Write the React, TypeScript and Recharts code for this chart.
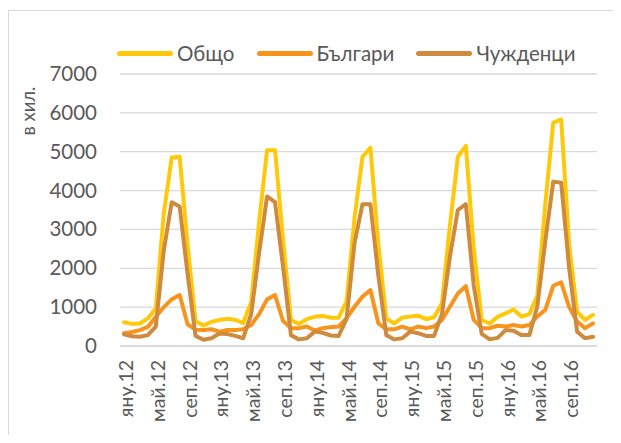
import React from "react";
import { LineChart, Line, XAxis, YAxis, CartesianGrid } from "recharts";

const months = ["яну", "фев", "мар", "апр", "май", "юни", "юли", "авг", "сеп", "окт", "ное", "дек"];
const years = ["12", "13", "14", "15", "16"];
const categories: string[] = years.flatMap((y) => months.map((m) => `${m}.${y}`));

const total = [
  610, 570, 580, 710, 970, 3400, 4850, 4870, 2600, 630, 530, 620,
  670, 700, 670, 590, 1130, 3200, 5040, 5040, 2750, 670, 570, 690,
  750, 770, 730, 730, 1150, 3300, 4870, 5100, 2600, 710, 580, 730,
  760, 780, 690, 740, 1100, 3100, 4870, 5150, 2500, 670, 580, 750,
  840, 940, 760, 820, 1300, 3650, 5750, 5830, 2600, 880, 670, 800,
];
const bulgarians = [
  330, 360, 410, 490, 750, 1000, 1200, 1310, 560, 420, 410, 430,
  370, 410, 410, 430, 540, 820, 1200, 1310, 650, 460, 460, 500,
  400, 460, 480, 500, 720, 1010, 1270, 1440, 580, 430, 430, 500,
  430, 500, 460, 500, 670, 1010, 1350, 1540, 670, 460, 460, 520,
  500, 540, 500, 540, 760, 930, 1550, 1640, 1000, 630, 460, 580,
];
const foreigners = [
  300, 250, 240, 280, 500, 2450, 3700, 3590, 1850, 260, 160, 200,
  320, 310, 260, 200, 820, 2400, 3850, 3700, 2050, 280, 170, 200,
  370, 340, 270, 260, 700, 2650, 3650, 3650, 1800, 280, 170, 200,
  370, 330, 260, 260, 820, 2300, 3500, 3650, 1550, 310, 170, 210,
  410, 390, 280, 280, 1030, 2700, 4230, 4200, 2000, 370, 200, 240,
];
const yTicks = [0, 1000, 2000, 3000, 4000, 5000, 6000, 7000];

const series = [
  { key: "total", name: "Общо", color: "#FFC90A", values: total },
  { key: "bg", name: "Българи", color: "#F7941E", values: bulgarians },
  { key: "fr", name: "Чужденци", color: "#CF8B3D", values: foreigners },
];

const data = categories.map((c, i) => {
  const row: Record<string, string | number> = { cat: c };
  series.forEach((s) => (row[s.key] = s.values[i]));
  return row;
});

const FONT = "Lato, 'Open Sans', sans-serif";
const TEXT = "#595959";

const XTick = (props: any) => {
  const { x, y, payload } = props;
  const yy = y + 6;
  return (
    <text
      x={x}
      y={yy}
      dy={9}
      transform={`rotate(-90, ${x}, ${yy})`}
      textAnchor="end"
      fill={TEXT}
      fontSize={19.5}
      fontFamily={FONT}
    >
      {payload.value}
    </text>
  );
};

const YTick = (props: any) => {
  const { y, payload } = props;
  return (
    <text x={89} y={y} dy={7} textAnchor="end" fill={TEXT} fontSize={20.5} fontFamily={FONT}>
      {payload.value}
    </text>
  );
};

export default function App() {
  return (
    <div style={{ position: "relative", width: 605, height: 427, overflow: "hidden", background: "#fff" }}>
      <div
        style={{
          position: "absolute",
          top: 2,
          left: 0,
          width: 700,
          height: 600,
          border: "1px solid #d9d9d9",
          boxSizing: "border-box",
        }}
      />
      <div
        style={{
          position: "absolute",
          top: 30,
          left: 109,
          display: "flex",
          alignItems: "center",
          height: 30,
          fontFamily: FONT,
          fontSize: 20.5,
          color: TEXT,
          whiteSpace: "nowrap",
        }}
      >
        {series.map((s) => (
          <div key={s.key} style={{ display: "flex", alignItems: "center", marginRight: 22 }}>
            <div style={{ width: 56, height: 5, borderRadius: 3, background: s.color, marginRight: 4 }} />
            <span>{s.name}</span>
          </div>
        ))}
      </div>
      <LineChart
        width={613}
        height={435}
        data={data}
        margin={{ top: 66, right: 24, left: 0, bottom: 0 }}
        style={{ position: "absolute", top: 0, left: 0 }}
      >
        <CartesianGrid horizontal vertical={false} stroke="#d9d9d9" strokeWidth={1.3} />
        <XAxis
          dataKey="cat"
          interval={3}
          height={97}
          padding={{ left: 4, right: 4 }}
          tick={<XTick />}
          tickLine={false}
          axisLine={{ stroke: "#d9d9d9", strokeWidth: 1.3 }}
        />
        <YAxis
          width={112}
          domain={[0, 7000]}
          ticks={yTicks}
          tick={<YTick />}
          tickLine={false}
          axisLine={false}
          label={{
            value: "в хил.",
            angle: -90,
            position: "insideTopLeft",
            content: () => (
              <text
                x={21}
                y={103}
                transform={`rotate(-90, 21, 103)`}
                textAnchor="middle"
                dy={6}
                fill={TEXT}
                fontSize={18.5}
                fontFamily={FONT}
              >
                в хил.
              </text>
            ),
          }}
        />
        {series.map((s) => (
          <Line
            key={s.key}
            dataKey={s.key}
            name={s.name}
            stroke={s.color}
            strokeWidth={4}
            dot={false}
            activeDot={false}
            isAnimationActive={false}
            strokeLinejoin="round"
            strokeLinecap="round"
          />
        ))}
      </LineChart>
    </div>
  );
}
